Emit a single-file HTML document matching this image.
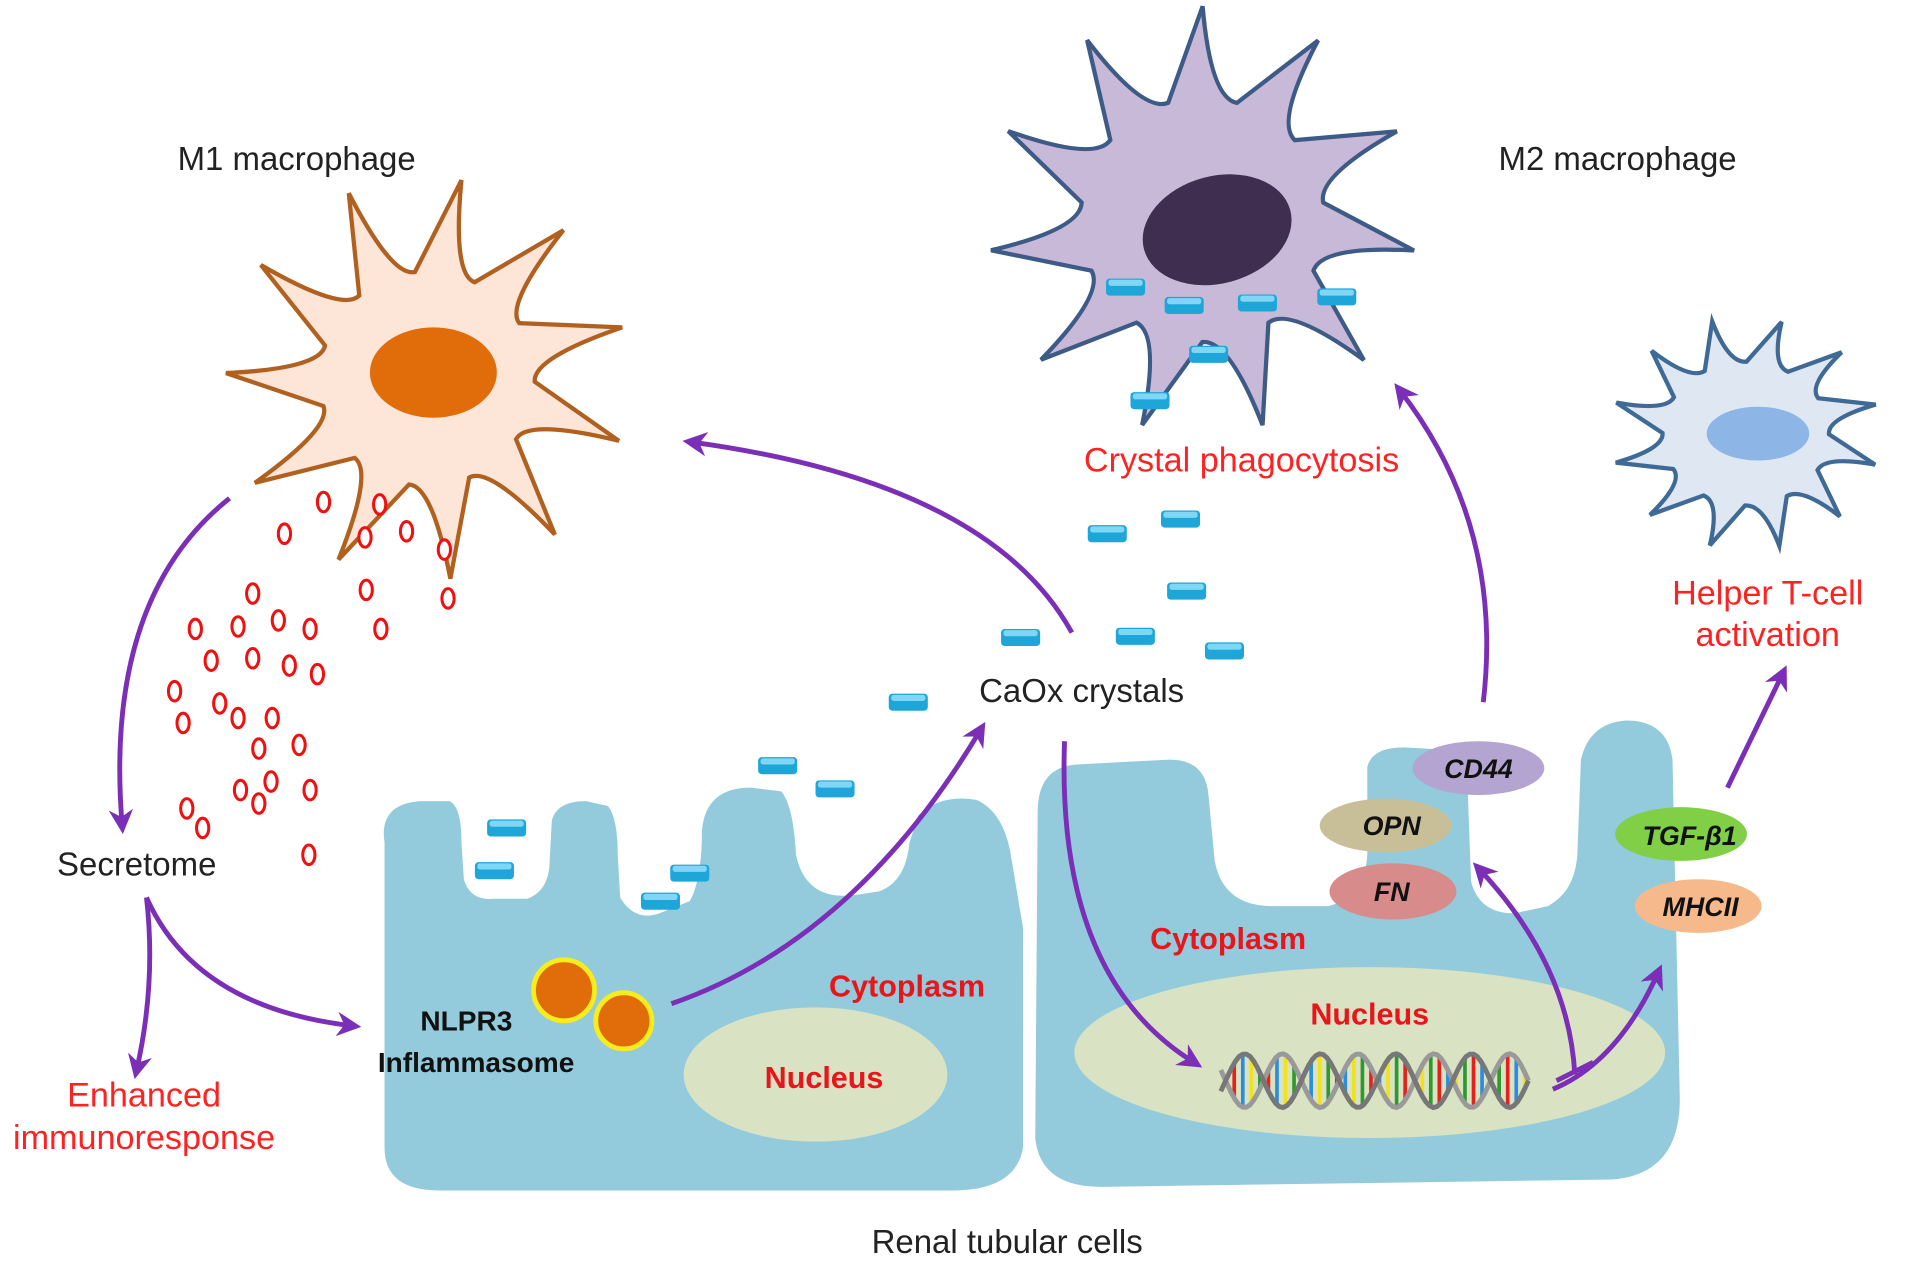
<!DOCTYPE html>
<html><head><meta charset="utf-8"><style>
html,body{margin:0;padding:0;background:#fff;}
svg{display:block;}
text{font-family:"Liberation Sans",sans-serif;}
</style></head><body>
<svg id="s" width="1913" height="1264" viewBox="0 0 1567 1035" xmlns="http://www.w3.org/2000/svg">
<defs>
<marker id="ah" viewBox="0 0 10 10" refX="6" refY="5" markerWidth="5" markerHeight="5" orient="auto-start-reverse" markerUnits="strokeWidth">
<path d="M0,0 L10,5 L0,10 L3,5 Z" fill="#7b2fb6"/></marker>
</defs>
<rect width="1567" height="1035" fill="#fff"/>
<g id="cells"></g>
<path d="M315,690 Q310,658 345,656 L368,656 Q378,660 378,690 L380,720 Q385,738 405,736 L432,736 Q448,730 450,710 L452,672 Q456,656 480,656 L498,660 Q506,670 506,700 L508,735 Q520,755 540,748 L565,738 Q575,720 575,680 Q578,645 615,645 L640,648 Q650,660 652,700 Q660,738 700,733 L720,730 Q742,722 745,690 L752,668 Q770,650 800,655 Q822,665 828,700 L838,760 L838,940 Q832,975 780,975 L360,975 Q315,975 315,940 Z" fill="#93cbdd"/>
<path d="M850,665 Q850,628 882,626 L958,622 Q988,622 990,652 L995,705 Q1002,742 1042,742 L1088,742 Q1118,735 1120,700 L1120,628 Q1124,612 1150,612 L1185,614 Q1200,618 1202,640 L1205,722 Q1212,748 1240,748 L1268,742 Q1290,730 1292,700 L1295,622 Q1302,592 1332,590 Q1366,590 1370,622 L1376,900 Q1376,962 1320,966 L902,972 Q852,972 848,932 Z" fill="#93cbdd"/>
<ellipse cx="668" cy="880" rx="108" ry="55" fill="#d9e2c2"/>
<ellipse cx="1122" cy="862" rx="242" ry="70" fill="#d9e2c2"/>
<g id="dna"></g>
<g id="crys"></g>
<g id="ovals"></g>
<circle cx="462" cy="811" r="25" fill="#e06c0a" stroke="#f7ec1c" stroke-width="4"/>
<circle cx="511" cy="836" r="23" fill="#e06c0a" stroke="#f7ec1c" stroke-width="4"/>
<ellipse cx="1211" cy="629" rx="54" ry="22" fill="#b3a4d2"/>
<ellipse cx="1135" cy="676" rx="54" ry="22" fill="#c8bf99"/>
<ellipse cx="1141" cy="730" rx="52" ry="23" fill="#d88b8b"/>
<ellipse cx="1377" cy="683" rx="54" ry="22" fill="#80cf46"/>
<ellipse cx="1391" cy="742" rx="52" ry="22" fill="#f6b98b"/>
<g font-weight="bold" font-style="italic" font-size="22" text-anchor="middle" fill="#111">
<text x="1211" y="637">CD44</text><text x="1140" y="684">OPN</text><text x="1140" y="738">FN</text>
<text x="1384" y="692">TGF-β1</text><text x="1393" y="750">MHCII</text></g>
<g fill="none" stroke="#7b2fb6" stroke-width="4" marker-end="url(#ah)">
<path d="M188,408 Q85,490 100,675"/>
<path d="M120,735 Q128,805 112,876"/>
<path d="M120,735 Q160,825 288,840"/>
<path d="M878,518 Q810,395 567,362"/>
<path d="M550,822 Q700,770 803,598"/>
<path d="M872,607 Q865,800 978,870"/>
<path d="M1215,575 Q1232,430 1147,320"/>
<path d="M1290,880 Q1285,790 1212,712"/>
<path d="M1272,892 Q1325,870 1358,797"/>
<path d="M1415,645 L1460,552"/>
</g>
<path d="M1275,885 L1305,870" stroke="#7b2fb6" stroke-width="4"/>
<g font-size="27" fill="#222" text-anchor="middle">
<text x="243" y="139">M1 macrophage</text>
<text x="1325" y="139">M2 macrophage</text>
<text x="886" y="575">CaOx crystals</text>
<text x="112" y="717">Secretome</text>
<text x="825" y="1026">Renal tubular cells</text>
</g>
<g font-size="28" fill="#f22" text-anchor="middle">
<text x="1017" y="386">Crystal phagocytosis</text>
<text x="1448" y="495">Helper T-cell</text>
<text x="1448" y="529">activation</text>
<text x="118" y="906">Enhanced</text>
<text x="118" y="941">immunoresponse</text>
</g>
<g font-size="25" fill="#e8161b" font-weight="bold" text-anchor="middle">
<text x="743" y="816">Cytoplasm</text><text x="1006" y="777">Cytoplasm</text>
<text x="675" y="891">Nucleus</text><text x="1122" y="839">Nucleus</text>
</g>
<g font-size="23" fill="#111" font-weight="bold" text-anchor="middle">
<text x="382" y="844">NLPR3</text><text x="390" y="878">Inflammasome</text></g>
</svg>
<script>
var NS="http://www.w3.org/2000/svg";
function el(p,t,a){var e=document.createElementNS(NS,t);for(var k in a)e.setAttribute(k,a[k]);p.appendChild(e);return e;}
function star(cx,cy,ro,ri,n,rot,sx,sy){var d="";for(var i=0;i<n;i++){var a=rot+i*2*Math.PI/n,b=a+Math.PI/n;
var ox=cx+ro*Math.cos(a)*sx,oy=cy+ro*Math.sin(a)*sy;var ix=cx+ri*Math.cos(b)*sx,iy=cy+ri*Math.sin(b)*sy;
d+=(i==0?"M":"L")+ox.toFixed(1)+","+oy.toFixed(1)+" Q"+(cx+ri*1.0*Math.cos(b-0.22)*sx).toFixed(1)+","+(cy+ri*1.0*Math.sin(b-0.22)*sy).toFixed(1)+" "+ix.toFixed(1)+","+iy.toFixed(1)+" ";
}return d+"Z";}
var c=document.getElementById("cells");
el(c,"path",{d:star(350,310,165,88,11,-1.4,1,1),fill:"#fde5d7",stroke:"#b0601f","stroke-width":3.5});
el(c,"ellipse",{cx:355,cy:305,rx:52,ry:37,fill:"#e06c0a"});
el(c,"path",{d:star(985,180,175,100,11,-1.57,1,1),fill:"#c9b9d9",stroke:"#3d5b86","stroke-width":3.5});
el(c,"ellipse",{cx:997,cy:188,rx:62,ry:44,fill:"#3f2e4f",transform:"rotate(-15 997 188)"});
el(c,"path",{d:star(1430,355,100,62,12,-1.3,1.1,0.95),fill:"#dfe7f2",stroke:"#3f6a96","stroke-width":3.5});
el(c,"ellipse",{cx:1440,cy:355,rx:42,ry:22,fill:"#8db5e6"});
var cr=[[922,235],[970,250],[1030,248],[1095,243],[990,290],[942,328],[907,437],[967,425],[972,484],[930,521],[836,522],[1003,533],[744,575],[637,627],[684,646],[415,678],[405,713],[565,715],[541,738]];
var g=document.getElementById("crys");
cr.forEach(function(p){el(g,"rect",{x:p[0]-16,y:p[1]-7,width:32,height:14,rx:3,fill:"#1fa6d9"});el(g,"rect",{x:p[0]-14,y:p[1]-6,width:28,height:5,rx:2,fill:"#7fd6f5"});});
var ov=[[265,411],[311,413],[233,437],[299,440],[333,435],[364,450],[300,483],[367,490],[312,515],[207,486],[160,515],[195,513],[228,508],[254,515],[173,541],[207,539],[237,545],[260,552],[143,566],[180,576],[195,588],[223,588],[150,592],[212,613],[245,610],[197,647],[222,640],[212,658],[254,647],[153,662],[166,678],[253,700]];
var o=document.getElementById("ovals");
ov.forEach(function(p){el(o,"ellipse",{cx:p[0],cy:p[1],rx:5,ry:8,fill:"#fff",stroke:"#f01010","stroke-width":2.5});});
var dn=document.getElementById("dna"),cols=["#e8201c","#2a8de0","#f2e21a","#2e9a2e"];
for(var x=1004;x<1252;x+=7){var t=(x-1004)/62*2*Math.PI;var y1=885+22*Math.sin(t),y2=885-22*Math.sin(t);
el(dn,"line",{x1:x,y1:y1,x2:x,y2:y2,stroke:cols[Math.floor(x/7)%4],"stroke-width":3});}
var d1="",d2="";for(var x=1000;x<=1252;x+=3){var t=(x-1004)/62*2*Math.PI;d1+=(x==1000?"M":"L")+x+","+(885+22*Math.sin(t)).toFixed(1);d2+=(x==1000?"M":"L")+x+","+(885-22*Math.sin(t)).toFixed(1);}
el(dn,"path",{d:d1,fill:"none",stroke:"#999","stroke-width":4});el(dn,"path",{d:d2,fill:"none",stroke:"#777","stroke-width":4});
</script>
</body></html>
